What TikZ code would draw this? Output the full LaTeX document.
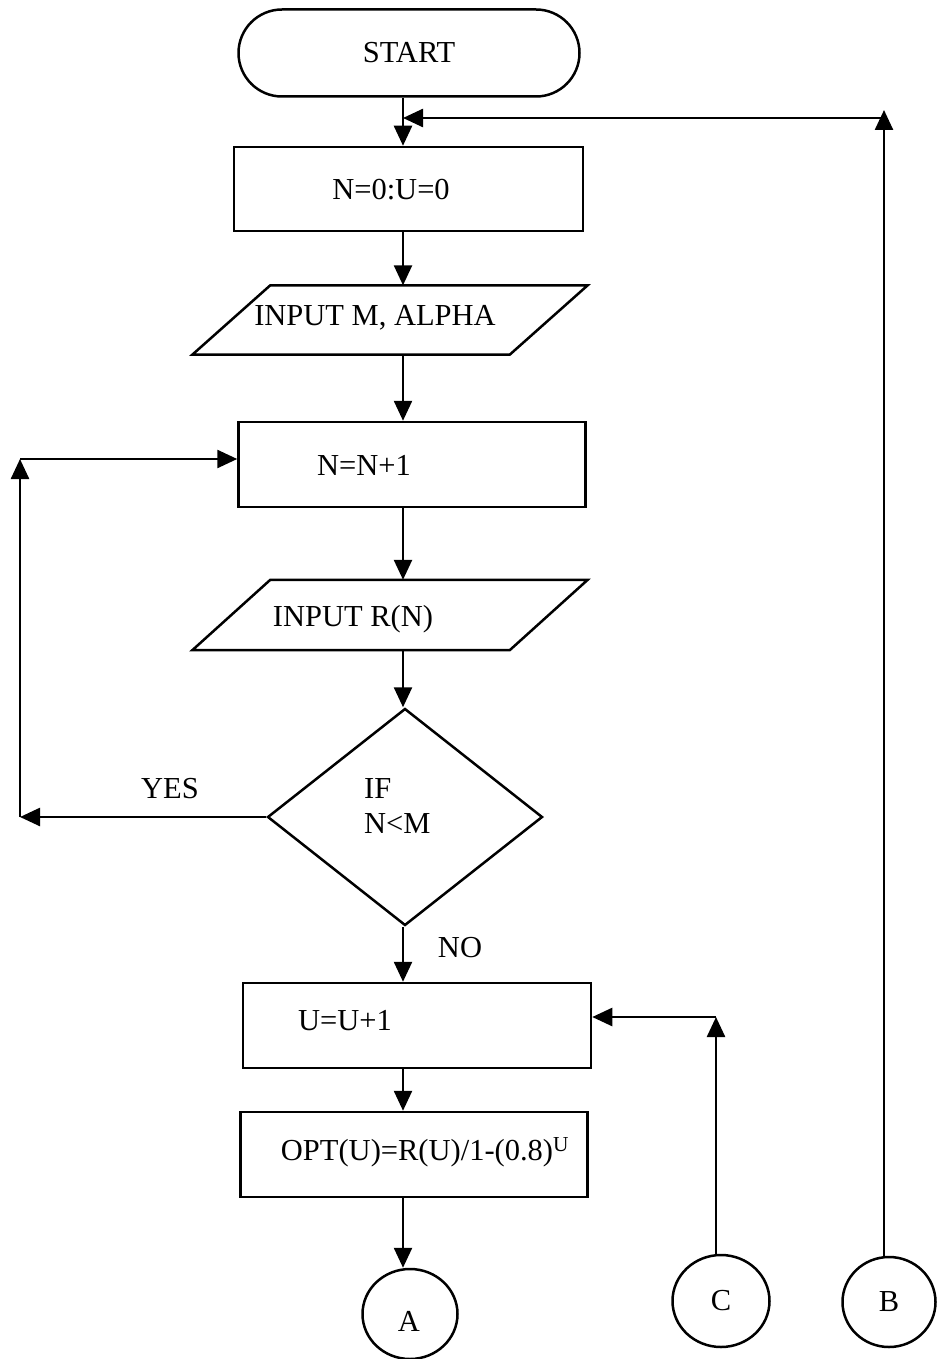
\documentclass[tikz,border=0pt]{standalone}
\usepackage{fontspec}
\setmainfont{Liberation Serif}
\usetikzlibrary{shapes.geometric,shapes.misc,arrows.meta}

\begin{document}
\begin{tikzpicture}[x=1pt,y=-1pt,
  every node/.style={font=\fontsize{30.5}{35}\selectfont, inner sep=0pt},
  outline/.style={draw, line width=2.5pt},
  procbox/.style={outline, rectangle, minimum width=347pt, minimum height=85pt},
  iobody/.style={rectangle, minimum width=317pt, minimum height=69pt},
  connector/.style={outline, ellipse, minimum width=95pt, minimum height=90pt},
  flow/.style={line width=2.5pt, -{Triangle[length=20pt,width=18pt]}},
  lbl/.style={}
]
\useasboundingbox[fill=white] (0,0) rectangle (937,1359);

% main column
\coordinate (spine) at (403,0);

\node[outline, rounded rectangle, minimum width=341pt, minimum height=87pt] (start) at (409,53) {START};
\node[procbox, minimum width=349pt, minimum height=84pt] (init) at (408.5,189) {};
\node[lbl] (initT) at (391,190) {N=0:U=0};

% input parallelograms: a plain body node, outline slanted by 39pt each side
\node[iobody] (inM) at (390,320) {};
\draw[outline] ([xshift=-39pt]inM.south west) -- ([xshift=39pt]inM.north west)
  -- ([xshift=39pt]inM.north east) -- ([xshift=-39pt]inM.south east) -- cycle;
\node[lbl] (inMT) at (375,318) {INPUT M, ALPHA};

\node[procbox] (inc) at (412,464.5) {};
\node[lbl] (incT) at (364,465) {N=N+1};

\node[iobody, minimum height=70pt] (inR) at (390,615) {};
\draw[outline] ([xshift=-39pt]inR.south west) -- ([xshift=39pt]inR.north west)
  -- ([xshift=39pt]inR.north east) -- ([xshift=-39pt]inR.south east) -- cycle;
\node[lbl] (inRT) at (353,619) {INPUT R(N)};

\node[outline, diamond, aspect=1.27, minimum width=275pt, minimum height=217pt] (dec) at (405,817) {};
\node[lbl, align=left, anchor=west] (decT) at (364,806) {IF\\N<M};
\node[lbl] (yes) at (170,789) {YES};
\node[lbl] (no) at (460,948) {NO};
\node[procbox, minimum width=348pt] (uinc) at (417,1025.5) {};
\node[lbl] (uincT) at (345,1021) {U=U+1};
\node[procbox] (opt) at (414,1154.5) {};
\node[lbl] (optT) at (425,1152) {OPT(U)=R(U)/1-(0.8)\textsuperscript{U}};
\node[connector] (A) at (410,1314) {};
\node[lbl] (AT) at (409,1321) {A};
\node[connector, minimum width=97pt, minimum height=92pt] (C) at (721,1301) {C};
\node[connector, minimum width=93pt] (B) at (889,1302) {B};

% downward flow
\draw[flow] (start.south -| spine) -- (init.north -| spine);
\draw[flow] (init.south -| spine) -- (inM.north -| spine);
\draw[flow] (inM.south -| spine) -- (inc.north -| spine);
\draw[flow] (inc.south -| spine) -- (inR.north -| spine);
\draw[flow] (inR.south -| spine) -- (dec.north -| spine);
\draw[flow] (dec.south -| spine) -- (uinc.north -| spine);
\draw[flow] (uinc.south -| spine) -- (opt.north -| spine);
\draw[flow] (opt.south -| spine) -- (A.north -| spine);

% YES loop back to N=N+1
\coordinate (yesEnd) at (20,817);
\coordinate (loopTop) at (20,459);
\draw[flow] (dec.west) -- (yesEnd);
\draw[flow] (yesEnd) -- (loopTop);
\draw[flow] (loopTop) -- (inc.west |- loopTop);

% connector C back to U=U+1
\coordinate (cTurn) at (716,1017);
\draw[flow] (C.north -| cTurn) -- (cTurn);
\draw[flow] (cTurn) -- (uinc.east |- cTurn);

% connector B back to the start
\coordinate (bTip) at (884,110);
\coordinate (bTurn) at (884,118);
\draw[flow] (B.north -| bTip) -- (bTip);
\draw[flow] (bTurn) -- (spine |- bTurn);
\end{tikzpicture}
\end{document}
